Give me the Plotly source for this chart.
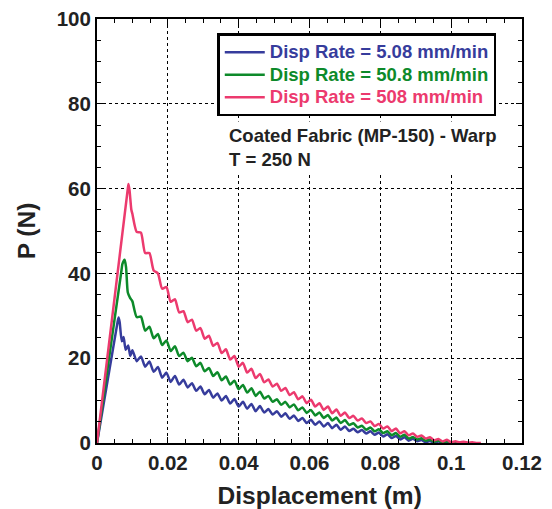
import plotly.graph_objects as go

# Shared displacement grid (m) for the oscillating decay part
X_DECAY = [0.0100, 0.0112, 0.0124, 0.0136, 0.0148, 0.0160, 0.0172, 0.0184, 0.0196, 0.0208,
           0.0220, 0.0232, 0.0244, 0.0256, 0.0268, 0.0280, 0.0292, 0.0304, 0.0316, 0.0328,
           0.0340, 0.0352, 0.0364, 0.0376, 0.0388, 0.0400, 0.0412, 0.0424, 0.0436, 0.0448,
           0.0460, 0.0472, 0.0484, 0.0496, 0.0508, 0.0520, 0.0532, 0.0544, 0.0556, 0.0568,
           0.0580, 0.0592, 0.0604, 0.0616, 0.0628, 0.0640, 0.0652, 0.0664, 0.0676, 0.0688,
           0.0700, 0.0712, 0.0724, 0.0736, 0.0748, 0.0760, 0.0772, 0.0784, 0.0796, 0.0808,
           0.0820, 0.0832, 0.0844, 0.0856, 0.0868, 0.0880, 0.0892, 0.0904, 0.0916, 0.0928,
           0.0940, 0.0952, 0.0964, 0.0976, 0.0988, 0.1000, 0.1012, 0.1024, 0.1036, 0.1048,
           0.1060, 0.1072, 0.1084]

# Disp Rate = 5.08 mm/min
blue_x_head = [0.0, 0.0058, 0.0061, 0.0064, 0.0070, 0.0075, 0.0081, 0.0088, 0.0094]
blue_y_head = [0.0, 28.5, 29.6, 28.5, 24.0, 25.0, 22.0, 23.0, 20.5]
blue_y_decay = [21.9, 19.3, 20.4, 18.0, 19.2, 16.8, 17.9, 15.4, 16.6, 14.4,
                15.8, 13.8, 14.9, 13.1, 14.1, 12.3, 13.3, 11.5, 12.5, 10.7,
                11.7, 10.0, 11.1, 9.3, 10.4, 8.6, 9.7, 8.1, 9.2, 7.5,
                8.7, 7.2, 8.0, 6.7, 7.5, 6.2, 7.0, 5.7, 6.5, 5.2,
                5.9, 4.7, 5.5, 4.3, 5.1, 3.9, 4.7, 3.5, 4.3, 3.1,
                3.9, 2.85, 3.35, 2.55, 3.05, 2.25, 2.75, 1.95, 2.45, 1.55,
                2.05, 1.15, 1.65, 0.85, 1.35, 0.55, 1.0, 0.4, 0.7, 0.2,
                0.5, 0.0, 0.35, 0.05, 0.1, 0.0]

# Disp Rate = 50.8 mm/min
green_x_head = [0.0, 0.0068, 0.0072, 0.0078, 0.0082, 0.0087, 0.0093, 0.0097]
green_y_head = [0.0, 40.0, 42.3, 43.2, 41.5, 35.5, 34.3, 33.8]
green_y_decay = [33.4, 29.7, 29.8, 26.5, 27.4, 24.7, 25.7, 23.1, 24.2, 21.7,
                 22.8, 20.5, 21.3, 19.3, 20.1, 18.1, 18.9, 16.9, 17.7, 15.8,
                 16.7, 14.8, 15.7, 13.8, 14.7, 12.7, 13.7, 11.9, 12.9, 11.1,
                 12.1, 10.5, 11.1, 9.7, 10.3, 9.0, 9.7, 8.4, 9.1, 7.7,
                 8.4, 7.1, 7.8, 6.5, 7.2, 5.9, 6.6, 5.3, 6.0, 4.7,
                 5.4, 4.25, 4.65, 3.65, 4.05, 3.15, 3.65, 2.75, 3.25, 2.35,
                 2.75, 1.85, 2.35, 1.45, 1.95, 1.05, 1.4, 0.85, 1.1, 0.55,
                 0.8, 0.3, 0.6, 0.1, 0.4, 0.1, 0.15, 0.0, 0.0]

# Disp Rate = 508 mm/min
pink_x_head = [0.0, 0.0087, 0.0089, 0.0092, 0.0097]
pink_y_head = [0.0, 60.0, 61.1, 59.5, 55.0]
pink_y_decay = [54.0, 49.8, 49.6, 44.8, 44.8, 40.7, 40.0, 36.4, 36.8, 33.3,
                33.9, 30.8, 31.1, 28.5, 29.1, 26.5, 27.1, 24.6, 25.3, 22.9,
                23.6, 21.2, 22.1, 19.7, 20.5, 18.0, 18.9, 16.6, 17.5, 15.3,
                16.3, 14.3, 15.0, 13.3, 14.0, 12.3, 13.0, 11.3, 12.0, 10.3,
                11.0, 9.4, 10.2, 8.6, 9.4, 7.8, 8.6, 7.0, 7.9, 6.4,
                7.2, 5.9, 6.4, 5.3, 5.8, 4.7, 5.1, 4.0, 4.5, 3.4,
                3.9, 2.8, 3.4, 2.3, 2.8, 1.8, 2.25, 1.45, 1.75, 1.05,
                1.35, 0.65, 0.95, 0.35, 0.75, 0.15, 0.4, 0.15, 0.3, 0.05,
                0.2, 0.0, 0.0]

names = ["Disp Rate = 5.08 mm/min", "Disp Rate = 50.8 mm/min", "Disp Rate = 508 mm/min"]
colors = ["#363c9c", "#0d8a2a", "#ec3a6e"]

x_ticks = [0, 0.02, 0.04, 0.06, 0.08, 0.1, 0.12]
x_tick_labels = ["0", "0.02", "0.04", "0.06", "0.08", "0.1", "0.12"]
y_ticks = [0, 20, 40, 60, 80, 100]

FONT = "Liberation Sans, Arial, Helvetica, sans-serif"

series = [
    (blue_x_head + X_DECAY[:len(blue_y_decay)], blue_y_head + blue_y_decay),
    (green_x_head + X_DECAY[:len(green_y_decay)], green_y_head + green_y_decay),
    (pink_x_head + X_DECAY[:len(pink_y_decay)], pink_y_head + pink_y_decay),
]

fig = go.Figure()
for (xs, ys), name, col in zip(series, names, colors):
    fig.add_trace(go.Scatter(
        x=xs, y=ys, mode="lines",
        name=f'<span style="color:{col};font-size:18.5px">{name}</span>',
        line=dict(color=col, width=2.5, shape="spline", smoothing=0.6),
    ))

axis_common = dict(
    showline=True, linecolor="black", linewidth=2, mirror="allticks",
    ticks="inside", ticklen=6, tickwidth=1, tickcolor="black",
    showgrid=True, gridcolor="black", gridwidth=1, griddash="dot",
    zeroline=False, automargin=False, ticklabeloverflow="allow",
    tickfont=dict(family=FONT, size=20.5, color="#222", weight="bold"),
)

fig.update_xaxes(
    range=[0, 0.12], tickvals=x_ticks, ticktext=x_tick_labels,
    minor=dict(ticks="inside", ticklen=4, dtick=0.005, tickcolor="black", showgrid=False),
    title=dict(text="&nbsp;&nbsp;&nbsp;Displacement (m)",
               font=dict(family=FONT, size=24.5, color="#222", weight="bold"), standoff=14),
    **axis_common,
)
fig.update_yaxes(
    range=[0, 100], tickvals=y_ticks,
    minor=dict(ticks="inside", ticklen=4, dtick=5, tickcolor="black", showgrid=False),
    title=dict(text="P (N)", font=dict(family=FONT, size=24.5, color="#222", weight="bold"), standoff=14),
    **axis_common,
)

fig.add_annotation(
    xref="paper", yref="paper", x=0.30, y=0.76, xanchor="left", yanchor="top",
    text="Coated Fabric (MP-150) - Warp<br>T = 250 N", align="left", showarrow=False,
    font=dict(family=FONT, size=18.5, color="#222", weight="bold"),
    bgcolor="white", borderpad=3,
)

fig.update_layout(
    width=552, height=509, autosize=False,
    margin=dict(l=89, r=38, t=11, b=74),
    paper_bgcolor="white", plot_bgcolor="white",
    showlegend=True,
    legend=dict(
        x=0.283, y=0.966, xanchor="left", yanchor="top",
        bgcolor="white", bordercolor="black", borderwidth=2.5,
        font=dict(family=FONT, size=15, weight="bold"),
        tracegroupgap=0, itemwidth=40,
    ),
)

fig.write_html("out.html")
